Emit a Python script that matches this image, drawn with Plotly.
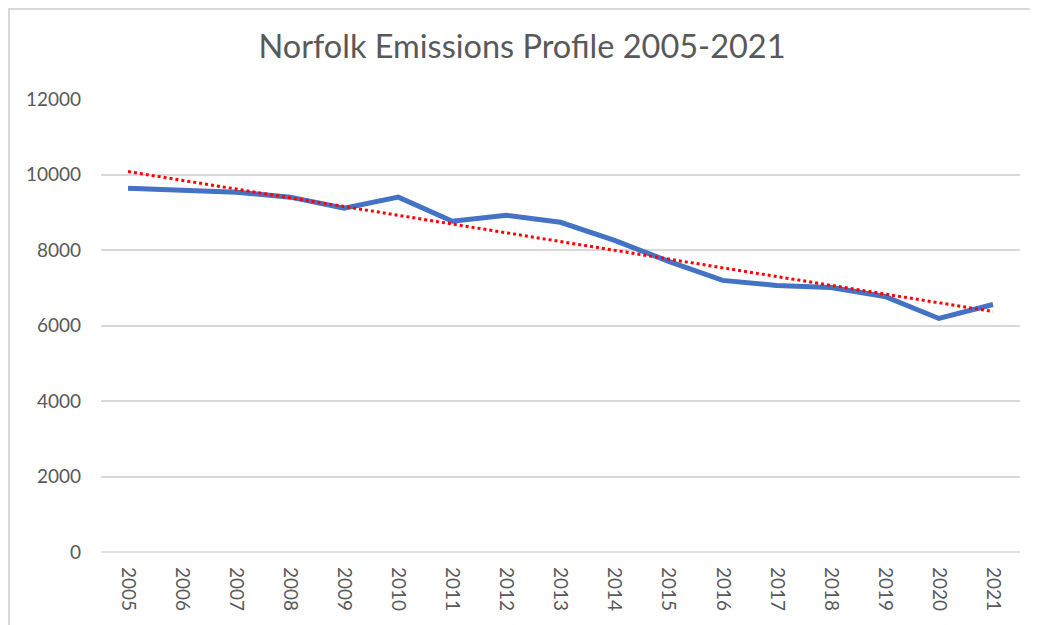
import numpy as np
import plotly.graph_objects as go

# Norfolk emissions
years = [str(y) for y in range(2005, 2022)]
emissions = [9637, 9584, 9530, 9400, 9106, 9400, 8761, 8920, 8734,
             8256, 7700, 7195, 7062, 7009, 6770, 6186, 6557]
y_ticks = [0, 2000, 4000, 6000, 8000, 10000, 12000]

# linear trendline (Excel style) fitted on category index
idx = np.arange(len(emissions))
slope, intercept = np.polyfit(idx, emissions, 1)
trend = slope * idx + intercept

TEXT = "#595959"
GRID = "#d9d9d9"
FONT = "Lato"

# plot area in figure px (page body adds an 8px offset)
L, R, T, B = 93, 26, 91, 81
PW, PH = 1038 - L - R, 625 - T - B

fig = go.Figure()

fig.add_trace(go.Scatter(x=years, y=emissions, mode="lines", name="Emissions",
                         line=dict(color="#4472C4", width=5)))

fig.add_trace(go.Scatter(x=years, y=trend, mode="lines", name="Linear trend",
                         line=dict(color="#ff0000", width=3, dash="dot")))

fig.update_layout(
    width=1038, height=625,
    margin=dict(l=L, r=R, t=T, b=B),
    paper_bgcolor="white", plot_bgcolor="white",
    showlegend=False,
    font=dict(family=FONT, color=TEXT),
    title=dict(text="Norfolk Emissions Profile 2005-2021", x=514 / 1038,
               xanchor="center", y=1 - 39 / 625, yanchor="middle",
               font=dict(family=FONT, size=32.5, color=TEXT)),
    xaxis=dict(type="category", range=[-0.5, 16.5], tickangle=90,
               showgrid=False, showline=False, zeroline=False, ticks="",
               ticklabelstandoff=14,
               tickfont=dict(family=FONT, size=19, color=TEXT)),
    yaxis=dict(range=[0, 12000], tickvals=y_ticks, tickformat="d",
               showgrid=True, gridcolor=GRID, gridwidth=1.5, zeroline=False,
               showline=False, ticks="", ticklabelstandoff=19,
               tickfont=dict(family=FONT, size=19, color=TEXT)),
    shapes=[
        # chart-area border (top and left edges visible)
        dict(type="rect", xref="paper", yref="paper",
             x0=(1 - L) / PW, x1=1.2, y0=-0.4, y1=(PH + T - 1) / PH,
             line=dict(color=GRID, width=2), fillcolor="rgba(0,0,0,0)",
             layer="below"),
        # bottom axis line at 0
        dict(type="line", xref="paper", yref="paper", x0=0, x1=1, y0=0, y1=0,
             line=dict(color=GRID, width=1.5), layer="below"),
    ],
)

fig.write_html("out.html")
